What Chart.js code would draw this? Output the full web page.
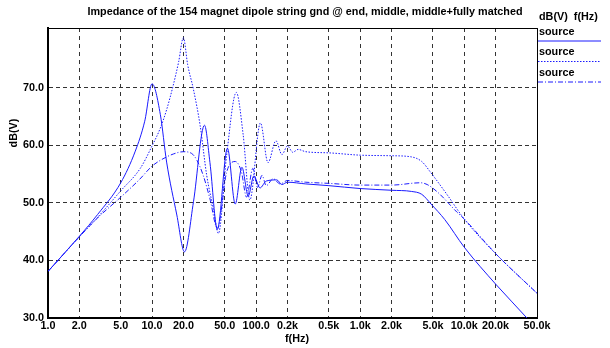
<!DOCTYPE html>
<html>
<head>
<meta charset="utf-8">
<script src="https://cdn.jsdelivr.net/npm/chart.js@4.4.1/dist/chart.umd.min.js"></script>
<style>
  body { margin: 0; background: #fff; }
  canvas { display: block; }
</style>
</head>
<body>
<canvas id="chart" width="610" height="348"></canvas>
<script>
// --- datos ---
const TITLE = 'Impedance of the 154 magnet dipole string gnd @ end, middle, middle+fully matched';

// eje x (log) y sus etiquetas
const X_TICKS = [1, 2, 5, 10, 20, 50, 100, 200, 500, 1000, 2000, 5000, 10000, 20000, 50000];
const X_LABELS = ['1.0', '2.0', '5.0', '10.0', '20.0', '50.0', '100.0', '0.2k', '0.5k', '1.0k', '2.0k', '5.0k', '10.0k', '20.0k', '50.0k'];
const Y_TICKS = [30, 40, 50, 60, 70];

// serie 1: linea continua
const freqEnd = [1, 2, 3, 5, 6.9, 8.5, 10, 12, 13.8, 17.3, 20.5, 25, 31.9, 36, 42.4, 53, 63, 73, 84, 95, 109, 125, 158, 177, 200, 300, 500, 1000, 2000, 3100, 3900, 4800, 6500, 10000, 20000, 40000, 50000];
const dbEnd = [38.1, 44.2, 48, 53.5, 59, 64.2, 70.7, 65.4, 57.1, 47.9, 41.5, 50.2, 63.5, 57, 45.4, 59.5, 49.8, 56.2, 51.2, 54.7, 52.6, 53.8, 54, 53.2, 53.6, 53.3, 53, 52.5, 52.2, 52, 51.5, 49.8, 47.1, 42.3, 35.9, 30, 28];

// serie 2: punteada
const freqMid = [1, 2, 3, 5, 7.7, 10, 12, 13.8, 16, 18, 20, 22, 25, 29, 33.5, 38.8, 43.4, 52, 64.5, 75, 87, 110, 130, 155, 177, 200, 225, 253, 300, 500, 1000, 2000, 3100, 3900, 4800, 6800, 10000, 20000, 50000];
const dbMid = [38.1, 44.1, 47.5, 52.1, 56, 59.9, 63, 66.2, 70.5, 74.5, 78.7, 74, 69.7, 63.4, 54.8, 49, 44.7, 58.2, 69.2, 61.9, 50.5, 63.9, 57, 60.8, 58.4, 59.9, 58.8, 59.3, 58.9, 58.7, 58.3, 58.2, 58, 57.2, 55.2, 51.5, 47.2, 41.2, 34.3];

// serie 3: raya-punto
const freqMatched = [1, 2, 3, 5, 7.5, 10, 12, 16, 20, 24, 27, 31, 36, 42.4, 52, 63, 72, 81, 93, 103, 114, 125, 146, 170, 200, 300, 500, 1000, 2000, 3800, 4400, 5600, 8500, 10000, 20000, 50000];
const dbMatched = [38.1, 44.1, 47.4, 51, 54, 56.4, 57.4, 58.5, 58.9, 58.6, 57.4, 54.8, 50.7, 45.6, 55.3, 57.2, 55.5, 51, 56, 52.7, 54.8, 53, 54.2, 53.3, 53.9, 53.6, 53.4, 53.1, 53.1, 53.5, 53.2, 51.8, 48.4, 47.2, 41.2, 34.3];

const FAMILY = '"Liberation Sans", Arial, sans-serif';
const FONT = 'bold 10.8px ' + FAMILY;
const BLUE = '#1a1aff';
const DASH_DOT = [5, 2, 1, 2];
const DOTTED = [1.5, 1.5];

function toPoints(xs, ys) {
    return xs.map((x, i) => ({ x: x, y: ys[i] }));
}

// titulo, leyenda y marco superior/derecho
const overlay = {
    id: 'overlay',
    afterDraw(chart) {
        const ctx = chart.ctx;
        const a = chart.chartArea;
        ctx.save();
        ctx.strokeStyle = '#000';
        ctx.lineWidth = 1;
        ctx.beginPath();
        ctx.moveTo(a.left, a.top + 0.5);
        ctx.lineTo(a.right + 0.5, a.top + 0.5);
        ctx.lineTo(a.right + 0.5, a.bottom);
        ctx.stroke();

        ctx.fillStyle = '#000';
        ctx.font = FONT;
        ctx.textBaseline = 'middle';
        ctx.textAlign = 'center';
        ctx.fillText(TITLE, 305, 12);
        ctx.fillText('f(Hz)', 297, 339);

        ctx.textAlign = 'left';
        ctx.fillText('dB(V)  f(Hz)', 539, 17);
        const styles = [[], DOTTED, DASH_DOT];
        styles.forEach((dash, i) => {
            const y = 32 + i * 20.5;
            ctx.fillText('source', 539, y);
            ctx.beginPath();
            ctx.setLineDash(dash);
            ctx.strokeStyle = BLUE;
            ctx.moveTo(538, y + 9);
            ctx.lineTo(601, y + 9);
            ctx.stroke();
        });
        ctx.setLineDash([]);

        ctx.translate(14, 133);
        ctx.rotate(-Math.PI / 2);
        ctx.textAlign = 'center';
        ctx.fillText('dB(V)', 0, 0);
        ctx.restore();
    }
};

const ctx = document.getElementById('chart').getContext('2d');
const baseLine = { borderColor: BLUE, borderWidth: 1, pointRadius: 0, cubicInterpolationMode: 'monotone', fill: false };
const tickFont = { family: FAMILY, size: 10.8, weight: 'bold' };

new Chart(ctx, {
    type: 'line',
    data: {
        datasets: [
            Object.assign({ label: 'source', data: toPoints(freqEnd, dbEnd) }, baseLine),
            Object.assign({ label: 'source', data: toPoints(freqMid, dbMid), borderDash: DOTTED }, baseLine),
            Object.assign({ label: 'source', data: toPoints(freqMatched, dbMatched), borderDash: DASH_DOT }, baseLine)
        ]
    },
    options: {
        responsive: false,
        animation: false,
        devicePixelRatio: 1,
        layout: { padding: { top: 28, right: 73, left: 0, bottom: 0 } },
        plugins: { legend: { display: false }, tooltip: { enabled: false }, title: { display: false } },
        scales: {
            x: {
                type: 'logarithmic',
                min: 1, max: 50000,
                afterFit: s => { s.height = 30; },
                afterBuildTicks: s => { s.ticks = X_TICKS.map(v => ({ value: v })); },
                ticks: {
                    autoSkip: false, maxRotation: 0, padding: 2,
                    color: '#000', font: tickFont,
                    callback: (v, i) => X_LABELS[i]
                },
                grid: { color: '#333', lineWidth: 1, drawTicks: false },
                border: { display: true, color: '#000', width: 2, dash: [4, 4] }
            },
            y: {
                min: 30, max: 80.4,
                afterFit: s => { s.width = 48; },
                afterBuildTicks: s => { s.ticks = Y_TICKS.map(v => ({ value: v })); },
                ticks: {
                    padding: 4,
                    color: '#000', font: tickFont,
                    callback: v => v.toFixed(1)
                },
                grid: { color: '#333', lineWidth: 1, drawTicks: false },
                border: { display: true, color: '#000', width: 2, dash: [4, 3] }
            }
        }
    },
    plugins: [overlay]
});
</script>
</body>
</html>
